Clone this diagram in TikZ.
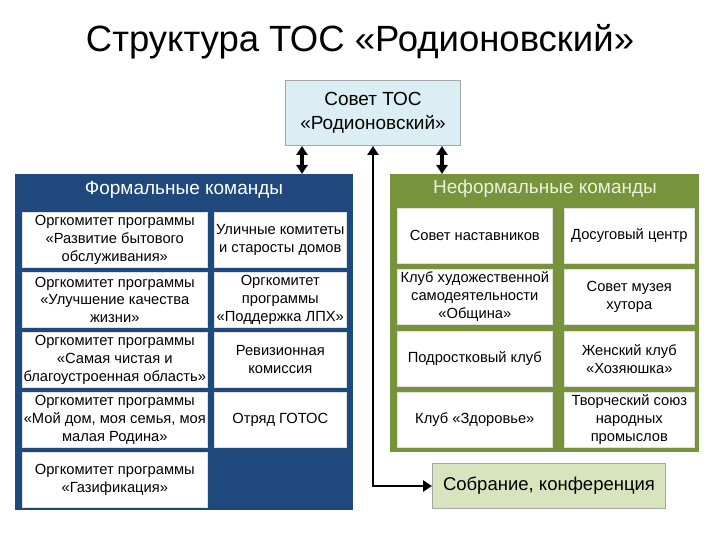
\documentclass[tikz,border=0pt]{standalone}
\usepackage{fontspec}
\setmainfont{Liberation Sans}
\usetikzlibrary{arrows.meta}
\definecolor{navy}{HTML}{1F497D}
\definecolor{olive}{HTML}{77933C}
\definecolor{paleolive}{HTML}{EBF1DE}
\definecolor{iceblue}{HTML}{DBEEF4}
\definecolor{sage}{HTML}{D7E4BD}
\newcommand{\ArrTip}{Triangle[length=9pt,width=11pt]}
\tikzset{panel/.style={anchor=north west,inner sep=0pt}}
\tikzset{cell/.style={anchor=north west,fill=white,draw=black!12,line width=.6pt,align=center,inner sep=1pt,minimum height=55pt,font=\fontsize{14.7}{17.8}\selectfont}}
\tikzset{lightbox/.style={anchor=north west,draw=black!35,line width=1pt,align=center}}
\tikzset{<->-/.style={line width=3.6pt,{\ArrTip}-{\ArrTip}}}

\begin{document}
\begin{tikzpicture}[x=1pt,y=-1pt]
\useasboundingbox(0,0)rectangle(720,540);
\node(title)at(360,42){\fontsize{36.5}{42}\selectfont Структура ТОС «Родионовский»};
\node[lightbox,fill=iceblue,minimum width=175pt,minimum height=65pt,font=\fontsize{19}{24}\selectfont](sovet)at(285,80){Совет ТОС\\«Родионовский»};
% formal teams
\node[panel,fill=navy,minimum width=338pt,minimum height=336pt](formal)at(15,174){};
\node[text=white,font=\fontsize{19}{22}\selectfont](formalT)at(184,190){Формальные команды};
\node[cell,minimum width=185pt](f1)at(22,212){Оргкомитет программы\\«Развитие бытового\\обслуживания»};
\node[cell,minimum width=185pt](f2)at(22,272){Оргкомитет программы\\«Улучшение качества\\жизни»};
\node[cell,minimum width=185pt](f3)at(22,332){Оргкомитет программы\\«Самая чистая и\\благоустроенная область»};
\node[cell,minimum width=185pt](f4)at(22,392){Оргкомитет программы\\«Мой дом, моя семья, моя\\малая Родина»};
\node[cell,minimum width=185pt](f5)at(22,452){Оргкомитет программы\\«Газификация»};
\node[cell,minimum width=132pt](g1)at(214,212){Уличные комитеты\\и старосты домов};
\node[cell,minimum width=132pt](g2)at(214,272){Оргкомитет\\программы\\«Поддержка ЛПХ»};
\node[cell,minimum width=132pt](g3)at(214,332){Ревизионная\\комиссия};
\node[cell,minimum width=132pt](g4)at(214,392){Отряд ГОТОС};
% informal teams
\node[panel,fill=olive,minimum width=309pt,minimum height=278pt](informal)at(390,174){};
\node[text=paleolive,font=\fontsize{19}{22}\selectfont](informalT)at(545,189){Неформальные команды};
\node[cell,minimum width=155pt](n1)at(397,208){Совет наставников};
\node[cell,minimum width=155pt](n2)at(397,269){Клуб художественной\\самодеятельности\\«Община»};
\node[cell,minimum width=155pt](n3)at(397,331){Подростковый клуб};
\node[cell,minimum width=155pt](n4)at(397,392){Клуб «Здоровье»};
\node[cell,minimum width=130pt](m1)at(564,208){Досуговый центр};
\node[cell,minimum width=130pt](m2)at(564,269){Совет музея\\хутора};
\node[cell,minimum width=130pt](m3)at(564,331){Женский клуб\\«Хозяюшка»};
\node[cell,minimum width=130pt](m4)at(564,392){Творческий союз\\народных\\промыслов};
\node[lightbox,fill=sage,minimum width=233pt,minimum height=45pt,font=\fontsize{18.5}{22}\selectfont](sobr)at(432,463){Собрание, конференция};
% links
\draw[<->-]([xshift=17pt]sovet.south west)--([xshift=17pt]sovet.south west|-formal.north);
\draw[<->-]([xshift=-19pt]sovet.south east)--([xshift=-19pt]sovet.south east|-informal.north);
\draw[line width=2.8pt,{\ArrTip}-{\ArrTip}](sovet.south)|-(sobr.west);
\end{tikzpicture}
\end{document}
